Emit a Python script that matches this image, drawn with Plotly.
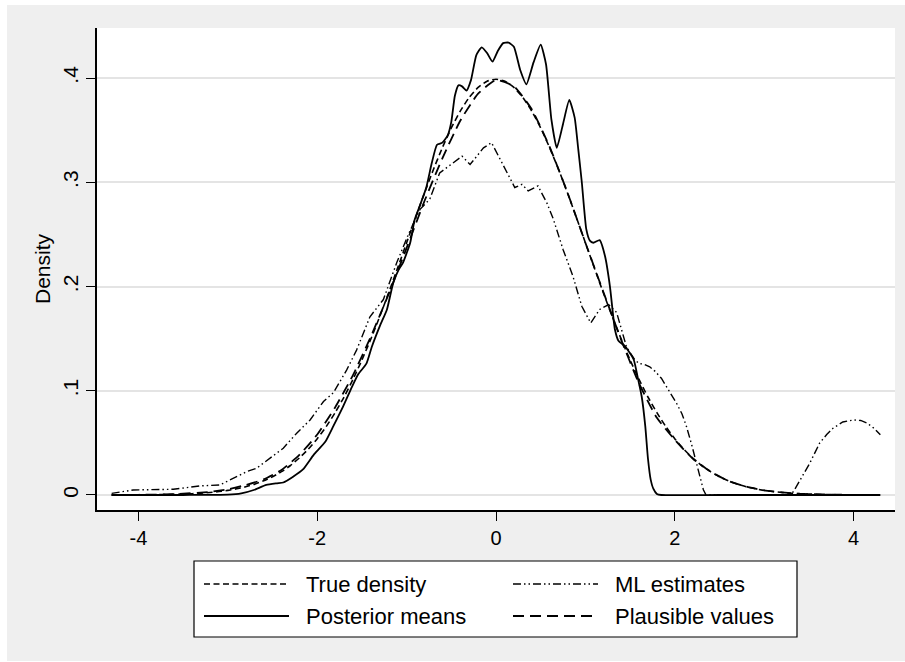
import plotly.graph_objects as go

# ---------------- data ----------------
true_x = [-4.3, -4.2, -4.1, -4.0, -3.9, -3.8, -3.7, -3.6, -3.5, -3.4, -3.3, -3.2, -3.1, -3.0,
          -2.9, -2.8, -2.7, -2.6, -2.5, -2.4, -2.3, -2.2, -2.1, -2.0, -1.9, -1.8, -1.7, -1.6,
          -1.5, -1.4, -1.3, -1.2, -1.1, -1.0, -0.9, -0.8, -0.7, -0.6, -0.5, -0.4, -0.3, -0.2,
          -0.1, 0.0, 0.1, 0.2, 0.3, 0.4, 0.5, 0.6, 0.7, 0.8, 0.9, 1.0, 1.1, 1.2, 1.3, 1.4,
          1.5, 1.6, 1.7, 1.8, 1.9, 2.0, 2.1, 2.2, 2.3, 2.4, 2.5, 2.6, 2.7, 2.8, 2.9, 3.0,
          3.1, 3.2, 3.3, 3.4, 3.5, 3.6, 3.7, 3.8, 3.9, 4.0, 4.1, 4.2, 4.3]
true_y = [0.0000, 0.0001, 0.0001, 0.0001, 0.0002, 0.0003, 0.0004, 0.0006, 0.0009, 0.0012,
          0.0017, 0.0024, 0.0033, 0.0044, 0.0060, 0.0079, 0.0104, 0.0136, 0.0175, 0.0224,
          0.0283, 0.0355, 0.0440, 0.0540, 0.0656, 0.0790, 0.0940, 0.1109, 0.1295, 0.1497,
          0.1714, 0.1942, 0.2179, 0.2420, 0.2661, 0.2897, 0.3123, 0.3332, 0.3521, 0.3683,
          0.3814, 0.3910, 0.3970, 0.3989, 0.3970, 0.3910, 0.3814, 0.3683, 0.3521, 0.3332,
          0.3123, 0.2897, 0.2661, 0.2420, 0.2179, 0.1942, 0.1714, 0.1497, 0.1295, 0.1109,
          0.0940, 0.0790, 0.0656, 0.0540, 0.0440, 0.0355, 0.0283, 0.0224, 0.0175, 0.0136,
          0.0104, 0.0079, 0.0060, 0.0044, 0.0033, 0.0024, 0.0017, 0.0012, 0.0009, 0.0006,
          0.0004, 0.0003, 0.0002, 0.0001, 0.0001, 0.0001, 0.0000]

post_x = [-4.30, -3.50, -3.00, -2.85, -2.71, -2.57, -2.45, -2.38, -2.27, -2.16, -2.04, -1.91,
          -1.82, -1.71, -1.61, -1.54, -1.45, -1.39, -1.30, -1.22, -1.15, -1.09, -1.04, -0.96,
          -0.91, -0.85, -0.78, -0.72, -0.66, -0.60, -0.54, -0.50, -0.46, -0.42, -0.38, -0.33,
          -0.28, -0.22, -0.16, -0.10, -0.04, 0.02, 0.08, 0.14, 0.20, 0.27, 0.34, 0.42, 0.50,
          0.56, 0.62, 0.68, 0.75, 0.82, 0.88, 0.92, 0.96, 1.01, 1.05, 1.09, 1.16, 1.22, 1.275,
          1.33, 1.37, 1.44, 1.54, 1.59, 1.63, 1.67, 1.70, 1.73, 1.76, 1.80, 1.85, 2.50, 4.30]
post_y = [0.0000, 0.0000, 0.0003, 0.0015, 0.0048, 0.0096, 0.0112, 0.0120, 0.0176, 0.0245,
          0.0385, 0.0510, 0.0660, 0.0850, 0.1040, 0.1160, 0.1260, 0.1420, 0.1620, 0.1780,
          0.2035, 0.2160, 0.2230, 0.2420, 0.2640, 0.2780, 0.2950, 0.3180, 0.3360, 0.3380,
          0.3450, 0.3580, 0.3830, 0.3930, 0.3920, 0.3880, 0.3980, 0.4220, 0.4295, 0.4240,
          0.4157, 0.4260, 0.4335, 0.4340, 0.4300, 0.4080, 0.3940, 0.4150, 0.4320, 0.4130,
          0.3600, 0.3330, 0.3560, 0.3790, 0.3620, 0.3320, 0.3000, 0.2550, 0.2440, 0.2420,
          0.2445, 0.2290, 0.2000, 0.1590, 0.1480, 0.1430, 0.1300, 0.1110, 0.0945, 0.0660,
          0.0350, 0.0150, 0.0060, 0.0010, 0.0000, 0.0000, 0.0000]

ml_x = [-4.30, -4.06, -3.61, -3.31, -3.09, -2.98, -2.79, -2.68, -2.53, -2.38, -2.23, -2.08,
        -1.93, -1.82, -1.67, -1.56, -1.41, -1.26, -1.11, -0.98, -0.85, -0.74, -0.63, -0.51,
        -0.38, -0.29, -0.22, -0.14, -0.05, 0.045, 0.12, 0.21, 0.29, 0.36, 0.47, 0.57, 0.64,
        0.75, 0.86, 0.96, 1.06, 1.16, 1.26, 1.35, 1.46, 1.55, 1.60, 1.65, 1.72, 1.78, 1.85,
        1.91, 1.97, 2.02, 2.08, 2.13, 2.19, 2.245, 2.29, 2.32, 2.35, 3.30, 3.34, 3.42, 3.51,
        3.62, 3.70, 3.77, 3.88, 4.00, 4.08, 4.15, 4.23, 4.30]
ml_y = [0.0016, 0.0048, 0.0055, 0.0087, 0.0096, 0.0144, 0.0224, 0.0256, 0.0353, 0.0449,
        0.0593, 0.0720, 0.0897, 0.0980, 0.1200, 0.1390, 0.1710, 0.1875, 0.2230, 0.2500,
        0.2740, 0.2840, 0.3090, 0.3170, 0.3250, 0.3170, 0.3250, 0.3330, 0.3380, 0.3220,
        0.3090, 0.2950, 0.2980, 0.2917, 0.2965, 0.2800, 0.2650, 0.2356, 0.2100, 0.1810,
        0.1650, 0.1780, 0.1827, 0.1750, 0.1420, 0.1300, 0.1260, 0.1257, 0.1230, 0.1186,
        0.1120, 0.1040, 0.0960, 0.0880, 0.0780, 0.0660, 0.0480, 0.0304, 0.0140, 0.0050,
        0.0000, 0.0000, 0.0050, 0.0170, 0.0304, 0.0497, 0.0580, 0.0640, 0.0700, 0.0720,
        0.0715, 0.0690, 0.0640, 0.0577]

pv_x = [-4.3, -4.0, -3.6, -3.2, -3.0, -2.8, -2.6, -2.4, -2.2, -2.0, -1.8, -1.6, -1.4, -1.2,
        -1.0, -0.8, -0.6, -0.4, -0.2, 0.0, 0.2, 0.4, 0.6, 0.8, 1.0, 1.2, 1.4, 1.6, 1.8, 2.0,
        2.2, 2.4, 2.6, 2.8, 3.0, 3.2, 3.4, 3.6, 3.8, 4.0, 4.3]
pv_y = [0.0000, 0.0002, 0.0008, 0.0030, 0.0055, 0.0095, 0.0150, 0.0240, 0.0385, 0.0580,
        0.0840, 0.1150, 0.1520, 0.1930, 0.2370, 0.2820, 0.3230, 0.3590, 0.3850, 0.3980,
        0.3920, 0.3700, 0.3340, 0.2900, 0.2420, 0.1950, 0.1490, 0.1070, 0.0740, 0.0530,
        0.0350, 0.0225, 0.0135, 0.0080, 0.0045, 0.0025, 0.0012, 0.0006, 0.0003, 0.0001,
        0.0000]

series_names = ["True density", "ML estimates", "Posterior means", "Plausible values"]
x_ticks = [-4, -2, 0, 2, 4]
x_ticktext = ["-4", "-2", "0", "2", "4"]
y_ticks = [0, 0.1, 0.2, 0.3, 0.4]
y_ticktext = ["0", ".1", ".2", ".3", ".4"]

# ---------------- styles ----------------
FONT = "Liberation Sans, Arial, Helvetica, sans-serif"
styles = {
    "True density": dict(color="black", width=1.6, dash="6px,3.5px"),
    "ML estimates": dict(color="black", width=1.4, dash="8px,3px,1.5px,3px,1.5px,3px"),
    "Posterior means": dict(color="black", width=1.8, dash="solid"),
    "Plausible values": dict(color="black", width=1.8, dash="11px,6px"),
}
shape_map = {
    "True density": dict(shape="spline", smoothing=0.5),
    "ML estimates": dict(shape="linear"),
    "Posterior means": dict(shape="spline", smoothing=0.5),
    "Plausible values": dict(shape="spline", smoothing=0.5),
}
data_map = {
    "True density": (true_x, true_y),
    "ML estimates": (ml_x, ml_y),
    "Posterior means": (post_x, post_y),
    "Plausible values": (pv_x, pv_y),
}

fig = go.Figure()
for name in ["Plausible values", "True density", "ML estimates", "Posterior means"]:
    xs, ys = data_map[name]
    fig.add_trace(go.Scatter(x=xs, y=ys, mode="lines", name=name,
                             line=dict(**shape_map[name], **styles[name]),
                             showlegend=False))

W, H = 905, 662
L, R, T, B = 97, 10, 28, 152
pw, ph = W - L - R, H - T - B

def px(xp):
    return (xp - L) / pw

def py(yp):
    return (H - B - yp) / ph

shapes = [
    # outer grey graph region
    dict(type="rect", xref="paper", yref="paper", x0=px(7), x1=px(905), y0=py(661), y1=py(5),
         fillcolor="#efefef", line=dict(width=0), layer="below"),
    # white plot region
    dict(type="rect", xref="paper", yref="paper", x0=0, x1=1, y0=0, y1=1,
         fillcolor="white", line=dict(width=0), layer="below"),
    # legend box
    dict(type="rect", xref="paper", yref="paper", x0=px(194), x1=px(797), y0=py(637), y1=py(561),
         fillcolor="white", line=dict(color="black", width=1.2), layer="above"),
]
annotations = []
legend_layout = [("True density", 204, 584), ("ML estimates", 513, 584),
                 ("Posterior means", 204, 616), ("Plausible values", 513, 616)]
for name, x0, yrow in legend_layout:
    st = styles[name]
    shapes.append(dict(type="line", xref="paper", yref="paper", x0=px(x0), x1=px(x0 + 85),
                       y0=py(yrow), y1=py(yrow),
                       line=dict(color=st["color"], width=st["width"], dash=st["dash"]),
                       layer="above"))
    annotations.append(dict(text=name, xref="paper", yref="paper", x=px(x0 + 100), y=py(yrow),
                            xanchor="left", yanchor="middle", showarrow=False,
                            font=dict(family=FONT, size=22, color="black")))

fig.update_layout(
    width=W, height=H,
    margin=dict(l=L, r=R, t=T, b=B, pad=0),
    paper_bgcolor="white", plot_bgcolor="rgba(0,0,0,0)",
    shapes=shapes, annotations=annotations,
    showlegend=False,
    font=dict(family=FONT, size=20, color="black"),
)
fig.update_xaxes(range=[-4.464, 4.464], tickvals=x_ticks, ticktext=x_ticktext,
                 showgrid=False, zeroline=False, showline=True, linecolor="black", linewidth=1.5,
                 ticks="outside", ticklen=9, tickwidth=1.3, tickcolor="black",
                 tickfont=dict(family=FONT, size=20, color="black"))
fig.update_yaxes(range=[-0.0144, 0.448], tickvals=y_ticks, ticktext=y_ticktext, tickangle=-90,
                 showgrid=True, gridcolor="#e4e4e4", gridwidth=1.5, zeroline=False,
                 showline=True, linecolor="black", linewidth=1.5,
                 ticks="outside", ticklen=9, tickwidth=1.3, tickcolor="black",
                 tickfont=dict(family=FONT, size=21, color="black"),
                 title=dict(text="Density", font=dict(family=FONT, size=21, color="black"), standoff=2))

fig.write_html("out.html")
